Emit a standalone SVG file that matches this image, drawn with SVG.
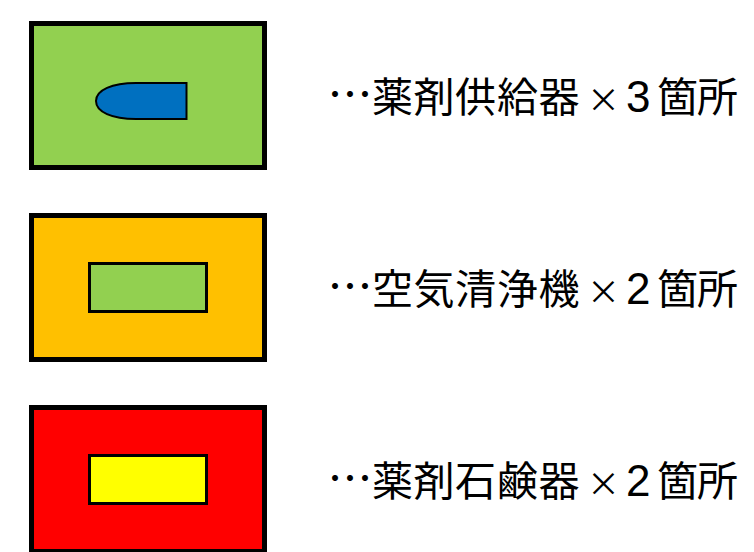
<svg xmlns="http://www.w3.org/2000/svg" width="754" height="552" viewBox="0 0 754 552">
<style>
.frame{stroke:#000;stroke-width:5}
.inner{stroke:#000;stroke-width:3}
.shape{stroke:#000;stroke-width:2}
text{font-family:"Noto Sans CJK JP","Noto Sans",sans-serif;font-size:41px;fill:#000}
.dots{font-size:45px}
.times{font-size:33px}
.num{font-family:"Liberation Sans",sans-serif;font-size:44px}
</style>
<rect width="754" height="552" fill="#fff"/>
<g id="node-dispenser">
<rect class="frame" x="31.5" y="23.5" width="233" height="144" fill="#92d050"/>
<path class="shape" d="M186.500 83H136C112 83 96 90 96 101C96 112 112 119 136 119H186.500Z" fill="#0070c0"/>
<text xml:lang="ja" y="112"><tspan class="dots" x="327.500">…</tspan><tspan x="372 413.600 455 497 538.600">薬剤供給器</tspan><tspan class="times" x="587">×</tspan><tspan class="num" x="626">3</tspan><tspan x="657 697">箇所</tspan></text>
</g>
<g id="node-purifier">
<rect class="frame" x="31.500" y="215.500" width="233" height="144" fill="#ffc000"/>
<rect class="inner" x="89.500" y="263.500" width="117" height="48" fill="#92d050"/>
<text xml:lang="ja" y="304"><tspan class="dots" x="327.500">…</tspan><tspan x="372 413.600 455 497 538.600">空気清浄機</tspan><tspan class="times" x="587">×</tspan><tspan class="num" x="626">2</tspan><tspan x="657 697">箇所</tspan></text>
</g>
<g id="node-soap">
<rect class="frame" x="31.500" y="407.500" width="233" height="144" fill="#f00"/>
<rect class="inner" x="89.500" y="455.500" width="117" height="48" fill="#ff0"/>
<text xml:lang="ja" y="496"><tspan class="dots" x="327.500">…</tspan><tspan x="372 413.600 455 497 538.600">薬剤石鹸器</tspan><tspan class="times" x="587">×</tspan><tspan class="num" x="626">2</tspan><tspan x="657 697">箇所</tspan></text>
</g>
<g id="connectors"/>
</svg>
